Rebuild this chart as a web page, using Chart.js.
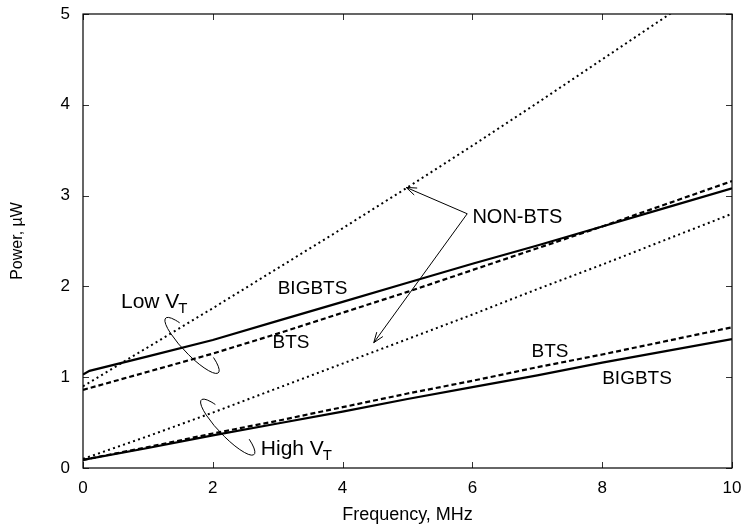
<!DOCTYPE html>
<html>
<head>
<meta charset="utf-8">
<script src="https://cdn.jsdelivr.net/npm/chart.js@4/dist/chart.umd.min.js"></script>
<style>
  html, body { margin: 0; padding: 0; background: #fff; }
  #chart { display: block; }
</style>
</head>
<body>
<canvas id="chart" width="743" height="529"></canvas>
<script>
// values (Power in uW vs Frequency in MHz)
const freq = [0, 1, 2, 3, 4, 5, 6, 7, 8, 9, 10];
const freqLowBig = [0, 0.1, 1, 2, 3, 4, 5, 6, 7, 8, 9, 10];

const lowBigbts = [1.03, 1.07, 1.23, 1.41, 1.62, 1.83, 2.04, 2.25, 2.45, 2.66, 2.87, 3.08];
const lowBts    = [0.86, 1.06, 1.26, 1.48, 1.71, 1.94, 2.18, 2.42, 2.66, 2.91, 3.16];
const lowNonBts = [0.90, 1.33, 1.76, 2.20, 2.64, 3.09, 3.55, 4.02, 4.50, 4.98, 5.47];

const highBigbts = [0.09, 0.22, 0.36, 0.49, 0.62, 0.76, 0.89, 1.02, 1.16, 1.29, 1.42];
const highBts    = [0.09, 0.23, 0.38, 0.52, 0.67, 0.82, 0.96, 1.11, 1.25, 1.40, 1.55];
const highNonBts = [0.10, 0.35, 0.61, 0.88, 1.15, 1.42, 1.69, 1.97, 2.24, 2.52, 2.80];

const xTicks = [0, 2, 4, 6, 8, 10];
const yTicks = [0, 1, 2, 3, 4, 5];

const FONT = "'Liberation Sans', Arial, Helvetica, sans-serif";

function pts(xs, ys) {
    return xs.map((x, i) => ({ x: x, y: ys[i] }));
}

function series(label, xs, ys, dash) {
    return {
        label: label,
        data: pts(xs, ys),
        borderColor: '#000',
        borderWidth: dash === 'dot' ? 2 : 2.2,
        borderDash: dash === 'dot' ? [2, 3.3] : (dash === 'dash' ? [5, 3] : []),
        borderCapStyle: 'butt',
        pointRadius: 0,
        tension: 0,
        fill: false
    };
}

// text, ellipse and arrow annotations, positioned in data units
const labels = [
    { text: 'BIGBTS', x: 3.0, y: 1.92, size: 19 },
    { text: 'BTS', x: 2.92, y: 1.32, size: 19 },
    { text: 'NON-BTS', x: 6.0, y: 2.70, size: 20 },
    { text: 'BTS', x: 6.91, y: 1.22, size: 19 },
    { text: 'BIGBTS', x: 8.0, y: 0.92, size: 19 }
];
const vtLabels = [
    { text: 'Low V', x: 0.585, y: 1.76 },
    { text: 'High V', x: 2.74, y: 0.143 }
];
const ellipses = [
    { x: 1.68, y: 1.35 },
    { x: 2.23, y: 0.45 }
];
const arrowFrom = { x: 5.92, y: 2.80 };
const arrowTips = [{ x: 4.98, y: 3.09 }, { x: 4.48, y: 1.38 }];

const decorPlugin = {
    id: 'decor',
    afterDatasetsDraw(chart) {
        const ctx = chart.ctx;
        const xs = chart.scales.x, ys = chart.scales.y;
        const a = chart.chartArea;
        ctx.save();

        // inward ticks on all four sides
        ctx.strokeStyle = '#333';
        ctx.lineWidth = 1;
        ctx.beginPath();
        xTicks.forEach(v => {
            const px = Math.round(xs.getPixelForValue(v)) + 0.5;
            ctx.moveTo(px, a.bottom); ctx.lineTo(px, a.bottom - 6);
            ctx.moveTo(px, a.top); ctx.lineTo(px, a.top + 6);
        });
        yTicks.forEach(v => {
            const py = Math.round(ys.getPixelForValue(v)) + 0.5;
            ctx.moveTo(a.left, py); ctx.lineTo(a.left + 6, py);
            ctx.moveTo(a.right, py); ctx.lineTo(a.right - 6, py);
        });
        ctx.stroke();

        // frame
        ctx.strokeStyle = '#000';
        ctx.lineWidth = 1.2;
        ctx.strokeRect(a.left, a.top, a.right - a.left, a.bottom - a.top);

        // labels
        ctx.fillStyle = '#000';
        ctx.textBaseline = 'alphabetic';
        ctx.textAlign = 'left';
        labels.forEach(l => {
            ctx.font = l.size + 'px ' + FONT;
            ctx.fillText(l.text, xs.getPixelForValue(l.x), ys.getPixelForValue(l.y));
        });
        vtLabels.forEach(l => {
            const px = xs.getPixelForValue(l.x), py = ys.getPixelForValue(l.y);
            ctx.font = '21px ' + FONT;
            ctx.fillText(l.text, px, py);
            const w = ctx.measureText(l.text).width;
            ctx.font = '15px ' + FONT;
            ctx.fillText('T', px + w - 1, py + 5);
        });

        // open ellipses round each group
        ctx.lineWidth = 1;
        ellipses.forEach(e => {
            ctx.beginPath();
            ctx.ellipse(xs.getPixelForValue(e.x), ys.getPixelForValue(e.y), 38, 9,
                46 * Math.PI / 180, -0.9, 4.0);
            ctx.stroke();
        });

        // arrows from NON-BTS label
        const fx = xs.getPixelForValue(arrowFrom.x), fy = ys.getPixelForValue(arrowFrom.y);
        arrowTips.forEach(t => {
            const tx = xs.getPixelForValue(t.x), ty = ys.getPixelForValue(t.y);
            const ang = Math.atan2(ty - fy, tx - fx);
            ctx.beginPath();
            ctx.moveTo(fx, fy); ctx.lineTo(tx, ty);
            ctx.moveTo(tx - 11 * Math.cos(ang - 0.35), ty - 11 * Math.sin(ang - 0.35));
            ctx.lineTo(tx, ty);
            ctx.lineTo(tx - 11 * Math.cos(ang + 0.35), ty - 11 * Math.sin(ang + 0.35));
            ctx.stroke();
        });
        ctx.restore();
    }
};

new Chart(document.getElementById('chart'), {
    type: 'line',
    data: {
        datasets: [
            series('Low BIGBTS', freqLowBig, lowBigbts, 'solid'),
            series('Low BTS', freq, lowBts, 'dash'),
            series('Low NON-BTS', freq, lowNonBts, 'dot'),
            series('High BIGBTS', freq, highBigbts, 'solid'),
            series('High BTS', freq, highBts, 'dash'),
            series('High NON-BTS', freq, highNonBts, 'dot')
        ]
    },
    options: {
        responsive: false,
        animation: false,
        layout: { padding: { top: 14, right: 11, left: 0, bottom: 0 } },
        plugins: {
            legend: { display: false },
            tooltip: { enabled: false }
        },
        scales: {
            x: {
                type: 'linear',
                min: 0,
                max: 10,
                afterBuildTicks: s => { s.ticks = xTicks.map(v => ({ value: v })); },
                afterFit: s => { s.height = 61; s.paddingLeft = 0; s.paddingRight = 0; },
                grid: { display: false, drawTicks: false },
                border: { display: false },
                ticks: { padding: 10, color: '#000', font: { family: FONT, size: 17 } },
                title: {
                    display: true, text: 'Frequency, MHz', color: '#000',
                    font: { family: FONT, size: 18 }, padding: { top: 0, bottom: 3 }
                }
            },
            y: {
                min: 0,
                max: 5,
                afterBuildTicks: s => { s.ticks = yTicks.map(v => ({ value: v })); },
                afterFit: s => { s.width = 83; s.paddingTop = 0; s.paddingBottom = 0; },
                grid: { display: false, drawTicks: false },
                border: { display: false },
                ticks: { padding: 13, color: '#000', font: { family: FONT, size: 17 } },
                title: {
                    display: true, text: 'Power, \u00b5W', color: '#000',
                    font: { family: FONT, size: 16 }, padding: { top: 8, bottom: 0 }
                }
            }
        }
    },
    plugins: [decorPlugin]
});
</script>
</body>
</html>
